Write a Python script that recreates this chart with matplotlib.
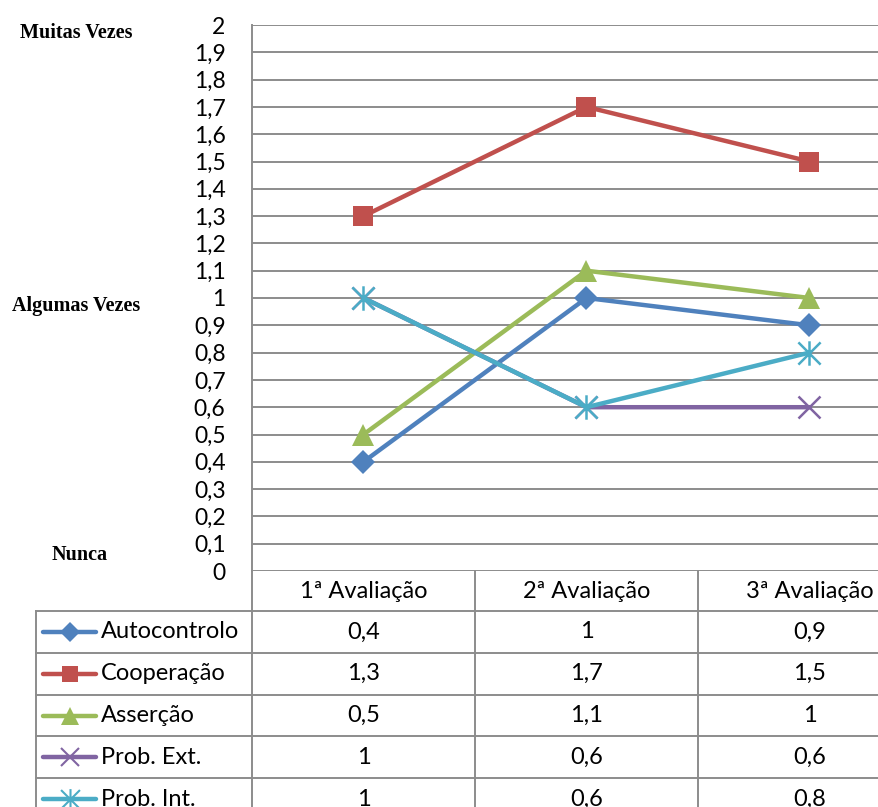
import matplotlib
matplotlib.use("Agg")
import matplotlib.pyplot as plt
from matplotlib.lines import Line2D
from matplotlib.path import Path
from matplotlib.transforms import blended_transform_factory

avaliacoes = ["1ª Avaliação", "2ª Avaliação", "3ª Avaliação"]
series = ["Autocontrolo", "Cooperação", "Asserção", "Prob. Ext.", "Prob. Int."]
autocontrolo = [0.4, 1.0, 0.9]
cooperacao = [1.3, 1.7, 1.5]
assercao = [0.5, 1.1, 1.0]
prob_ext = [1.0, 0.6, 0.6]
prob_int = [1.0, 0.6, 0.8]
valores = [autocontrolo, cooperacao, assercao, prob_ext, prob_int]
escala = [("Muitas Vezes", 2.0), ("Algumas Vezes", 1.0), ("Nunca", 0.0)]

# asterisco ao estilo Excel: um x com um traço vertical
estrela = Path([(0, -1.1), (0, 1.1), (-1, -1), (1, 1), (-1, 1), (1, -1)],
               [Path.MOVETO, Path.LINETO] * 3)

cores = ["#4F81BD", "#C0504D", "#9BBB59", "#8064A2", "#4BACC6"]
marcadores = ["D", "s", "^", "x", estrela]
tam_marc = [12, 14, 16, 16, 17.6]

W, H = 879, 807
fonte = "Lato"
serif = "Liberation Serif"
cinza = "#8C8C8C"


def fmt(v):
    s = ("%.1f" % v).replace(".", ",")
    return s[:-2] if s.endswith(",0") else s


def fx(px):
    return px / W


def fy(py):
    return 1 - py / H


def traco(m):
    return isinstance(m, Path) or m == "x"


fig = plt.figure(figsize=(W / 100, H / 100), dpi=100)
ax = fig.add_axes([fx(252), fy(571), 669 / W, 546 / H])

x = list(range(len(avaliacoes)))
for vals, cor, m, ms in zip(valores, cores, marcadores, tam_marc):
    mew = 1.8 if traco(m) else 0
    ax.plot(x, vals, color=cor, lw=3.2, marker=m, markersize=ms,
            markerfacecolor=cor, markeredgecolor=cor, markeredgewidth=mew,
            solid_capstyle="round", clip_on=False, zorder=3)

ax.set_xlim(-0.5, 2.5)
ax.set_ylim(0, 2)
yt = [i / 10 for i in range(21)]
ax.set_yticks(yt)
ax.set_yticklabels([fmt(v) for v in yt], fontsize=16.5, family=fonte)
ax.set_xticks([])
ax.tick_params(axis="y", length=0, pad=19)
for v in yt:
    ax.axhline(v, color=cinza, lw=1.4, zorder=1)
for s in ["top", "right", "bottom"]:
    ax.spines[s].set_visible(False)
ax.spines["left"].set_color(cinza)
ax.spines["left"].set_linewidth(1.4)

# rótulos da escala qualitativa à esquerda
ytrans = blended_transform_factory(fig.transFigure, ax.transData)
pos_x = {"Muitas Vezes": 20, "Algumas Vezes": 12, "Nunca": 52}
off_y = {"Muitas Vezes": -0.03, "Algumas Vezes": -0.03, "Nunca": 0.06}
for txt, v in escala:
    fig.text(fx(pos_x[txt]), v + off_y[txt], txt, transform=ytrans,
             family=serif, fontweight="bold", fontsize=14.5, va="center", ha="left")

# tabela de dados por baixo do gráfico
xtrans = blended_transform_factory(ax.transData, fig.transFigure)
topo, alt_cab, alt_lin = 571, 40, 41.8
bordas = [-0.5, 0.5, 1.5, 2.5]

for b in bordas:
    fig.add_artist(Line2D([b, b], [fy(topo), fy(H + 20)], transform=xtrans,
                          color=cinza, lw=1.4, clip_on=False))
fig.add_artist(Line2D([fx(36), fx(36)], [fy(topo + alt_cab), fy(H + 20)],
                      transform=fig.transFigure, color=cinza, lw=1.4))
for i in range(len(series) + 1):
    yy = fy(topo + alt_cab + i * alt_lin)
    fig.add_artist(Line2D([fx(36), 1.0], [yy, yy], transform=fig.transFigure,
                          color=cinza, lw=1.4))

for j, a in enumerate(avaliacoes):
    fig.text(j, fy(topo + alt_cab / 2), a, transform=xtrans, ha="center",
             va="center", fontsize=17, family=fonte)

for i, (nome, vals, cor, m, ms) in enumerate(zip(series, valores, cores, marcadores, tam_marc)):
    yc = fy(topo + alt_cab + (i + 0.5) * alt_lin)
    mew = 1.5 if traco(m) else 0
    fig.add_artist(Line2D([fx(43), fx(96)], [yc, yc], transform=fig.transFigure,
                          color=cor, lw=3.2, solid_capstyle="round"))
    fig.add_artist(Line2D([fx(70)], [yc], transform=fig.transFigure, marker=m,
                          markersize=ms * 0.85, color=cor, markeredgewidth=mew,
                          linestyle="none"))
    fig.text(fx(101), yc, nome, ha="left", va="center", fontsize=17, family=fonte)
    for j, v in enumerate(vals):
        fig.text(j, yc, fmt(v), transform=xtrans, ha="center", va="center",
                 fontsize=17, family=fonte)

fig.savefig("out.png", dpi=100)
